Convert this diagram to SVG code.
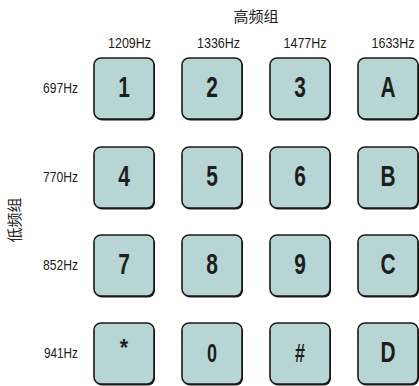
<svg xmlns="http://www.w3.org/2000/svg" width="419" height="386" viewBox="0 0 419 386">
<defs>
<style>
.key rect.sh{fill:#1a1a1a;}
.key rect.bg{fill:#b8d5d5;stroke:#1a1a1a;stroke-width:1.6;}
.key text{font-family:"Liberation Sans",Arial,sans-serif;font-weight:bold;font-size:29px;fill:#1e1e1e;text-anchor:middle;}
.lbl{font-family:"Liberation Sans",Arial,sans-serif;font-size:15px;fill:#222;}
.cjk{font-family:"Noto Sans CJK SC",sans-serif;font-size:15px;fill:#222;}
</style>
</defs>
<rect width="419" height="386" fill="#fff"/>
<g id="titles">
<text class="cjk" x="256" y="22" text-anchor="middle">高频组</text>
<text class="cjk" transform="translate(20,220) rotate(-90)" text-anchor="middle">低频组</text>
</g>
<g id="col-labels">
<text class="lbl" x="129.5" y="48" text-anchor="middle" textLength="43" lengthAdjust="spacingAndGlyphs">1209Hz</text>
<text class="lbl" x="218.5" y="48" text-anchor="middle" textLength="43" lengthAdjust="spacingAndGlyphs">1336Hz</text>
<text class="lbl" x="305" y="48" text-anchor="middle" textLength="43" lengthAdjust="spacingAndGlyphs">1477Hz</text>
<text class="lbl" x="393" y="48" text-anchor="middle" textLength="43" lengthAdjust="spacingAndGlyphs">1633Hz</text>
</g>
<g id="row-labels">
<text class="lbl" x="43" y="93" textLength="35" lengthAdjust="spacingAndGlyphs">697Hz</text>
<text class="lbl" x="43" y="182" textLength="35" lengthAdjust="spacingAndGlyphs">770Hz</text>
<text class="lbl" x="43" y="270" textLength="35" lengthAdjust="spacingAndGlyphs">852Hz</text>
<text class="lbl" x="44" y="358" textLength="34" lengthAdjust="spacingAndGlyphs">941Hz</text>
</g>
<g id="key-1" class="key"><rect class="sh" x="95" y="59.5" width="60" height="61" rx="7"/><rect class="bg" x="94" y="58" width="60" height="61" rx="7"/><text transform="translate(124,97) scale(0.72,1)">1</text></g>
<g id="key-2" class="key"><rect class="sh" x="183" y="59.5" width="60" height="61" rx="7"/><rect class="bg" x="182" y="58" width="60" height="61" rx="7"/><text transform="translate(212,97) scale(0.72,1)">2</text></g>
<g id="key-3" class="key"><rect class="sh" x="271" y="59.5" width="60" height="61" rx="7"/><rect class="bg" x="270" y="58" width="60" height="61" rx="7"/><text transform="translate(300,97) scale(0.72,1)">3</text></g>
<g id="key-A" class="key"><rect class="sh" x="359" y="59.5" width="60" height="61" rx="7"/><rect class="bg" x="358" y="58" width="60" height="61" rx="7"/><text transform="translate(388,97) scale(0.72,1)">A</text></g>

<g id="key-4" class="key"><rect class="sh" x="95" y="148.5" width="60" height="61" rx="7"/><rect class="bg" x="94" y="147" width="60" height="61" rx="7"/><text transform="translate(124,186) scale(0.72,1)">4</text></g>
<g id="key-5" class="key"><rect class="sh" x="183" y="148.5" width="60" height="61" rx="7"/><rect class="bg" x="182" y="147" width="60" height="61" rx="7"/><text transform="translate(212,186) scale(0.72,1)">5</text></g>
<g id="key-6" class="key"><rect class="sh" x="271" y="148.5" width="60" height="61" rx="7"/><rect class="bg" x="270" y="147" width="60" height="61" rx="7"/><text transform="translate(300,186) scale(0.72,1)">6</text></g>
<g id="key-B" class="key"><rect class="sh" x="359" y="148.5" width="60" height="61" rx="7"/><rect class="bg" x="358" y="147" width="60" height="61" rx="7"/><text transform="translate(388,186) scale(0.72,1)">B</text></g>

<g id="key-7" class="key"><rect class="sh" x="95" y="236.5" width="60" height="61" rx="7"/><rect class="bg" x="94" y="235" width="60" height="61" rx="7"/><text transform="translate(124,274) scale(0.72,1)">7</text></g>
<g id="key-8" class="key"><rect class="sh" x="183" y="236.5" width="60" height="61" rx="7"/><rect class="bg" x="182" y="235" width="60" height="61" rx="7"/><text transform="translate(212,274) scale(0.72,1)">8</text></g>
<g id="key-9" class="key"><rect class="sh" x="271" y="236.5" width="60" height="61" rx="7"/><rect class="bg" x="270" y="235" width="60" height="61" rx="7"/><text transform="translate(300,274) scale(0.72,1)">9</text></g>
<g id="key-C" class="key"><rect class="sh" x="359" y="236.5" width="60" height="61" rx="7"/><rect class="bg" x="358" y="235" width="60" height="61" rx="7"/><text transform="translate(388,274) scale(0.72,1)">C</text></g>

<g id="key-star" class="key"><rect class="sh" x="95" y="324.5" width="60" height="61" rx="7"/><rect class="bg" x="94" y="323" width="60" height="61" rx="7"/><text transform="translate(124,356) scale(0.9,1)" style="font-size:24px">*</text></g>
<g id="key-0" class="key"><rect class="sh" x="183" y="324.5" width="60" height="61" rx="7"/><rect class="bg" x="182" y="323" width="60" height="61" rx="7"/><text transform="translate(212,362) scale(0.72,1)" style="font-size:25px">0</text></g>
<g id="key-hash" class="key"><rect class="sh" x="271" y="324.5" width="60" height="61" rx="7"/><rect class="bg" x="270" y="323" width="60" height="61" rx="7"/><text transform="translate(300,362) scale(0.72,1)" style="font-size:25px">#</text></g>
<g id="key-D" class="key"><rect class="sh" x="359" y="324.5" width="60" height="61" rx="7"/><rect class="bg" x="358" y="323" width="60" height="61" rx="7"/><text transform="translate(388,362) scale(0.72,1)">D</text></g>
</svg>
